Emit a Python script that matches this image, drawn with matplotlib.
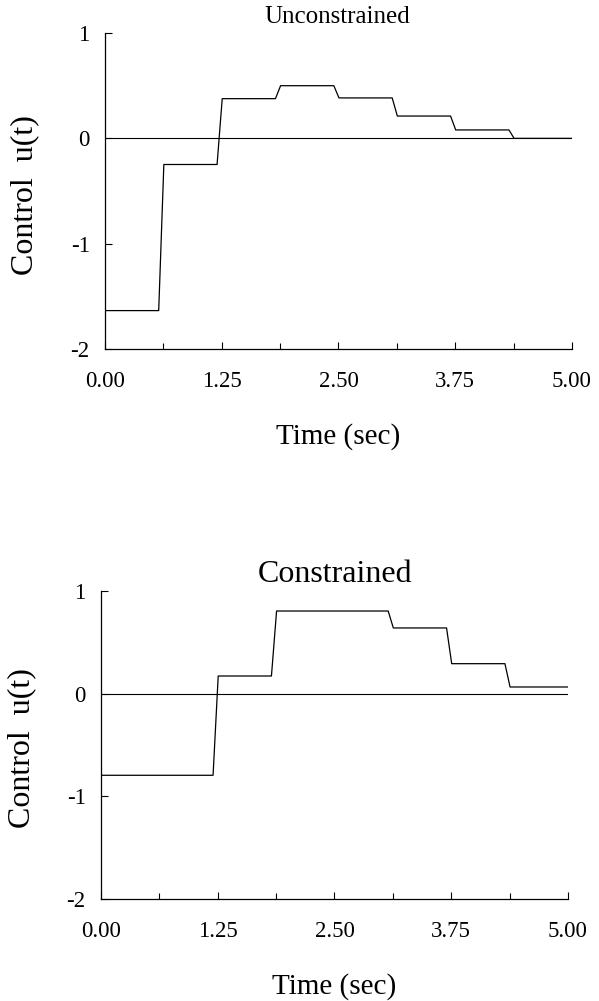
import matplotlib
matplotlib.use('Agg')
import matplotlib.pyplot as plt
from matplotlib.ticker import FixedLocator, FuncFormatter

plt.rcParams['font.family'] = ['Liberation Serif', 'DejaVu Serif']
plt.rcParams['axes.unicode_minus'] = False

# switching times (sec) and piecewise-constant control values
t_knots = [0.0, 0.625, 1.25, 1.875, 2.5, 3.125, 3.75, 4.375, 5.0]
u_unconstrained = [-1.635, -0.248, 0.377, 0.50, 0.384, 0.212, 0.08, 0.0]
u_constrained = [-0.795, -0.795, 0.172, 0.805, 0.805, 0.64, 0.292, 0.065]

x_major = [0.0, 1.25, 2.5, 3.75, 5.0]
x_minor = [0.625, 1.875, 3.125, 4.375]
y_ticks = [1, 0, -1, -2]


def stair(t, u, lead=0.05, lag=0.005):
    # the original plotter draws each switch as a short steep ramp
    xs = [t[0]]
    ys = [u[0]]
    for k in range(1, len(u)):
        xs += [t[k] - lead, t[k] + lag]
        ys += [u[k - 1], u[k]]
    xs.append(t[-1])
    ys.append(u[-1])
    return xs, ys


def style_axes(ax):
    ax.set_xlim(0, 5)
    ax.set_ylim(-2, 1)
    ax.spines['top'].set_visible(False)
    ax.spines['right'].set_visible(False)
    for s in ['left', 'bottom']:
        ax.spines[s].set_linewidth(0.9)
    ax.xaxis.set_major_locator(FixedLocator(x_major))
    ax.xaxis.set_minor_locator(FixedLocator(x_minor))
    ax.xaxis.set_major_formatter(FuncFormatter(lambda v, p: '%.2f' % v))
    ax.yaxis.set_major_locator(FixedLocator(y_ticks))
    ax.yaxis.set_major_formatter(FuncFormatter(lambda v, p: '%d' % v))
    ax.tick_params(axis='x', which='major', direction='in', length=5, width=0.8,
                   labelsize=16.5, pad=16)
    ax.tick_params(axis='x', which='minor', direction='in', length=4, width=0.8)
    ax.tick_params(axis='y', which='major', direction='in', length=5, width=0.8,
                   labelsize=16.5, pad=11)
    ax.axhline(0, color='black', lw=0.8)


fig = plt.figure(figsize=(5.99, 10.01), dpi=100)

ax1 = fig.add_axes([0.1753, 0.6513, 0.7796, 0.3157])
xs, ys = stair(t_knots, u_unconstrained)
ax1.plot(xs, ys, color='black', lw=0.9)
style_axes(ax1)

ax2 = fig.add_axes([0.1686, 0.1019, 0.7796, 0.3077])
xs, ys = stair(t_knots, u_constrained)
ax2.plot(xs, ys, color='black', lw=0.9)
style_axes(ax2)

fig.text(337 / 599, 1 - 17 / 1001, 'Unconstrained', ha='center', va='center', fontsize=18)
fig.text(338 / 599, 1 - 437 / 1001, 'Time (sec)', ha='center', va='center', fontsize=21)
fig.text(25 / 599, 1 - 195 / 1001, 'Control  u(t)', ha='center', va='center',
         rotation=90, fontsize=23)

fig.text(335 / 599, 1 - 575 / 1001, 'Constrained', ha='center', va='center', fontsize=23)
fig.text(334 / 599, 1 - 987 / 1001, 'Time (sec)', ha='center', va='center', fontsize=21)
fig.text(22 / 599, 1 - 748 / 1001, 'Control  u(t)', ha='center', va='center',
         rotation=90, fontsize=23)

fig.savefig('out.png', dpi=100)
